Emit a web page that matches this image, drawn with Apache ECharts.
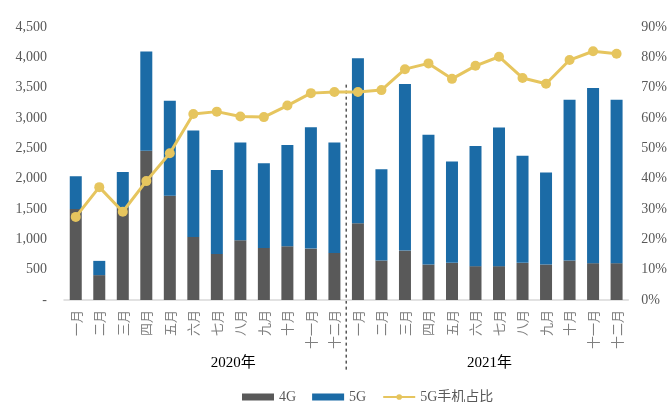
<!DOCTYPE html>
<html>
<head>
<meta charset="utf-8">
<script src="https://cdn.jsdelivr.net/npm/echarts@6/dist/echarts.min.js"></script>
<style>
  html, body { margin: 0; padding: 0; background: #fff; }
  #chart { width: 670px; height: 402px; }
</style>
</head>
<body>
<div id="chart"></div>
<script>
// months for the two years
const months = ['一月', '二月', '三月', '四月', '五月', '六月', '七月', '八月', '九月', '十月', '十一月', '十二月'];
const categories = months.concat(months);
const years = ['2020年', '2021年'];

// shipments (万部)
const data4G = [1500, 410, 1520, 2460, 1720, 1040, 760, 985, 858, 886, 847, 776,
                1265, 651, 815, 585, 612, 558, 558, 612, 585, 651, 607, 607];
const data5G = [540, 235, 590, 1635, 1565, 1755, 1383, 1612, 1395, 1667, 2002, 1821,
                2721, 1503, 2744, 2138, 1673, 1979, 2285, 1766, 1515, 2651, 2887, 2695];
// 5G share, percent
const share5G = [27.4, 37.2, 29.1, 39.2, 48.4, 61.3, 62.1, 60.5, 60.3, 64.1, 68.2, 68.6,
                 68.6, 69.2, 76.1, 78.0, 72.9, 77.2, 80.2, 73.2, 71.3, 79.1, 82.0, 81.2];

const serif = "'Liberation Serif', 'Noto Sans CJK SC', serif";
const grey = '#595959';

const chart = echarts.init(document.getElementById('chart'));

const option = {
  animation: false,
  textStyle: { fontFamily: serif },
  grid: { left: 64, right: 41, top: 27, bottom: 102 },
  legend: {
    top: 385,
    left: 237,
    itemGap: 16,
    itemWidth: 32,
    itemHeight: 7,
    textStyle: { color: grey, fontSize: 14, fontFamily: serif },
    data: [
      { name: '4G', icon: 'rect' },
      { name: '5G', icon: 'rect' },
      { name: '5G手机占比' }
    ]
  },
  xAxis: {
    type: 'category',
    data: categories,
    axisLine: { lineStyle: { color: '#d9d9d9', width: 1.5 } },
    axisTick: { show: false },
    axisLabel: {
      rotate: 90,
      interval: 0,
      margin: 10,
      color: '#7f7f7f',
      fontSize: 13,
      fontFamily: "'Noto Sans CJK SC', sans-serif"
    }
  },
  yAxis: [
    {
      type: 'value',
      min: 0,
      max: 4500,
      interval: 500,
      splitLine: { show: false },
      axisLine: { show: false },
      axisTick: { show: false },
      axisLabel: {
        color: grey,
        fontSize: 14,
        margin: 17,
        formatter: v => v === 0 ? '-' : v.toLocaleString('en-US')
      }
    },
    {
      type: 'value',
      min: 0,
      max: 90,
      interval: 10,
      splitLine: { show: false },
      axisLine: { show: false },
      axisTick: { show: false },
      axisLabel: { color: grey, fontSize: 14, margin: 13, formatter: '{value}%' }
    }
  ],
  series: [
    {
      name: '4G',
      type: 'bar',
      stack: 'total',
      data: data4G,
      barWidth: 12,
      itemStyle: { color: '#595959' }
    },
    {
      name: '5G',
      type: 'bar',
      stack: 'total',
      data: data5G,
      barWidth: 12,
      itemStyle: { color: '#1b6ba6' }
    },
    {
      name: '5G手机占比',
      type: 'line',
      yAxisIndex: 1,
      data: share5G,
      symbol: 'circle',
      symbolSize: 10,
      lineStyle: { color: '#e6c55e', width: 3 },
      itemStyle: { color: '#e6c55e' }
    }
  ]
};

chart.setOption(option);

// year divider and year labels, placed from the axis scale
const xA = chart.convertToPixel({ xAxisIndex: 0 }, 11);
const xB = chart.convertToPixel({ xAxisIndex: 0 }, 12);
const step = xB - xA;
const x0 = chart.convertToPixel({ xAxisIndex: 0 }, 0);
const divX = (xA + xB) / 2;
const topY = chart.convertToPixel({ yAxisIndex: 0 }, 3550);
const baseY = chart.convertToPixel({ yAxisIndex: 0 }, 0);
const yearPos = [6.7, 17.6];

chart.setOption({
  graphic: [
    {
      type: 'line',
      shape: { x1: divX, y1: topY, x2: divX, y2: baseY + 72 },
      style: { stroke: '#000', lineWidth: 1, lineDash: [3, 3] }
    }
  ].concat(years.map((y, i) => ({
    type: 'text',
    x: x0 + yearPos[i] * step,
    y: baseY + 63,
    style: {
      text: y,
      fill: '#000',
      font: "15px 'Liberation Serif', 'Noto Sans CJK SC', serif",
      align: 'center',
      verticalAlign: 'middle'
    }
  })))
});
</script>
</body>
</html>
